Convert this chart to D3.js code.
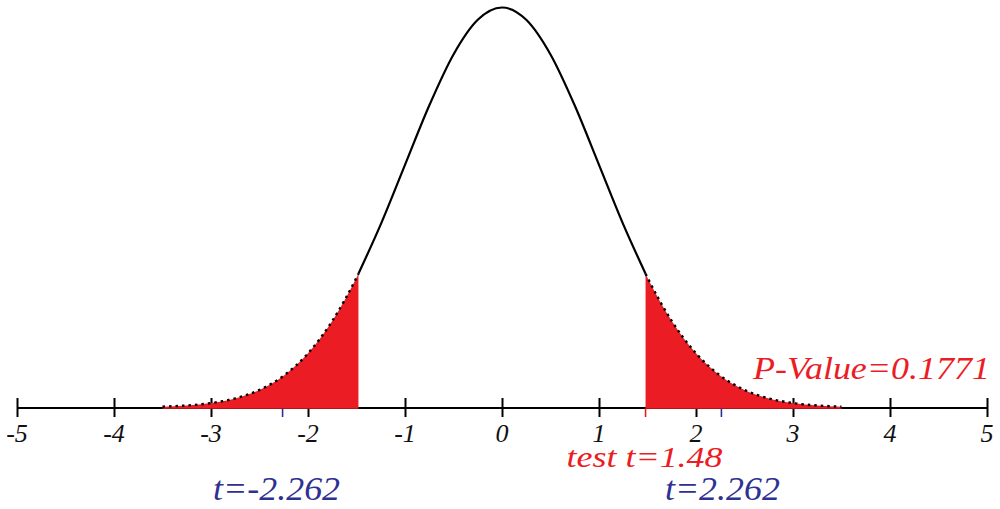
<!DOCTYPE html>
<html><head><meta charset="utf-8">
<script src="https://cdn.jsdelivr.net/npm/d3@7"></script>
<style>
html,body{margin:0;padding:0;background:#fff;}
text{font-family:"Liberation Serif","Times New Roman",Times,serif;font-style:italic;}
</style>
</head><body>
<svg id="chart" width="1000" height="509"></svg>
<script>
// Curve (t vs density)
const curveX = [-3.5,-3.25,-3,-2.75,-2.5,-2.25,-2,-1.75,-1.5,-1.48,-1.25,-1,-0.75,-0.5,-0.25,0,0.25,0.5,0.75,1,1.25,1.48,1.5,1.75,2,2.25,2.5,2.75,3,3.25,3.5];
const curveY = [0.00087,0.00203,0.00443,0.00909,0.01753,0.03174,0.05399,0.08628,0.12952,0.13344,0.18265,0.24197,0.30114,0.35207,0.38667,0.39894,0.38667,0.35207,0.30114,0.24197,0.18265,0.13344,0.12952,0.08628,0.05399,0.03174,0.01753,0.00909,0.00443,0.00203,0.00087];
const tickValues = [-5,-4,-3,-2,-1,0,1,2,3,4,5];
const tickLabels = ["-5","-4","-3","-2","-1","0","1","2","3","4","5"];
const testT = 1.48;
const criticalT = [-2.262, 2.262];
const criticalLabels = ["t=-2.262", "t=2.262"];
const testLabel = "test t=1.48";
const pValueLabel = "P-Value=0.1771";

const RED = "#ec1c24", BLUE = "#2e3192";
const svg = d3.select("#chart");
const x = d3.scaleLinear().domain([-5, 5]).range([17, 987]);
const y = d3.scaleLinear().domain([0, 0.39894]).range([407.5, 7.5]);
const pts = curveX.map((v, i) => ({x: v, y: curveY[i]}));

// axis
const axisG = svg.append("g").attr("transform", `translate(0,${y(0)})`);
const axis = d3.axisBottom(x).tickValues(tickValues).tickSize(0).tickFormat("");
axisG.call(axis);
axisG.select(".domain").attr("stroke", "#000").attr("stroke-width", 2.2);
axisG.selectAll(".tick line").remove();
axisG.selectAll(".tick").append("line")
  .attr("y1", -9.5).attr("y2", 9.5).attr("stroke", "#000").attr("stroke-width", 2);
svg.selectAll("text.ticklab").data(tickValues).enter().append("text")
  .attr("class", "ticklab")
  .attr("x", d => x(d)).attr("y", 442)
  .attr("text-anchor", "middle")
  .style("font-size", "26px").attr("fill", "#111")
  .text((d, i) => tickLabels[i]);

// tails
const area = d3.area().x(d => x(d.x)).y0(y(0) + 1.2).y1(d => y(d.y)).curve(d3.curveMonotoneX);
const leftTail = pts.filter(d => d.x <= -testT);
const rightTail = pts.filter(d => d.x >= testT);
svg.append("path").datum(leftTail).attr("d", area).attr("fill", RED);
svg.append("path").datum(rightTail).attr("d", area).attr("fill", RED);

// small ticks below axis
svg.selectAll("line.crit").data(criticalT).enter().append("line")
  .attr("x1", d => x(d)).attr("x2", d => x(d))
  .attr("y1", y(0) + 1).attr("y2", y(0) + 9.5)
  .attr("stroke", BLUE).attr("stroke-width", 1.6);
svg.append("line").attr("x1", x(testT)).attr("x2", x(testT))
  .attr("y1", y(0) + 1).attr("y2", y(0) + 9.5)
  .attr("stroke", RED).attr("stroke-width", 1.6);

// curve
const line = d3.line().x(d => x(d.x)).y(d => y(d.y)).curve(d3.curveMonotoneX);
svg.append("path").datum(pts.filter(d => d.x >= -testT && d.x <= testT)).attr("d", line)
  .attr("fill", "none").attr("stroke", "#000").attr("stroke-width", 2.2);
svg.append("path").datum(leftTail).attr("d", line)
  .attr("fill", "none").attr("stroke", "#000").attr("stroke-width", 2.4).attr("stroke-dasharray", "2.5,4");
svg.append("path").datum(rightTail).attr("d", line)
  .attr("fill", "none").attr("stroke", "#000").attr("stroke-width", 2.4).attr("stroke-dasharray", "2.5,4");

// labels
svg.append("text").attr("x", x(testT) - 1).attr("y", 467)
  .attr("text-anchor", "middle")
  .style("font-size", "29px").attr("fill", RED)
  .attr("textLength", 156).attr("lengthAdjust", "spacingAndGlyphs")
  .text(testLabel);
svg.append("text").attr("x", 990).attr("y", 379)
  .attr("text-anchor", "end")
  .style("font-size", "31px").attr("fill", RED)
  .attr("textLength", 237).attr("lengthAdjust", "spacingAndGlyphs")
  .text(pValueLabel);
svg.selectAll("text.crit").data(criticalT).enter().append("text")
  .attr("class", "crit")
  .attr("x", (d, i) => x(d) + (i === 0 ? -6 : 1)).attr("y", 500)
  .attr("text-anchor", "middle")
  .style("font-size", "34px").attr("fill", BLUE)
  .attr("textLength", (d, i) => i === 0 ? 127 : 115).attr("lengthAdjust", "spacingAndGlyphs")
  .text((d, i) => criticalLabels[i]);
</script>
</body></html>
